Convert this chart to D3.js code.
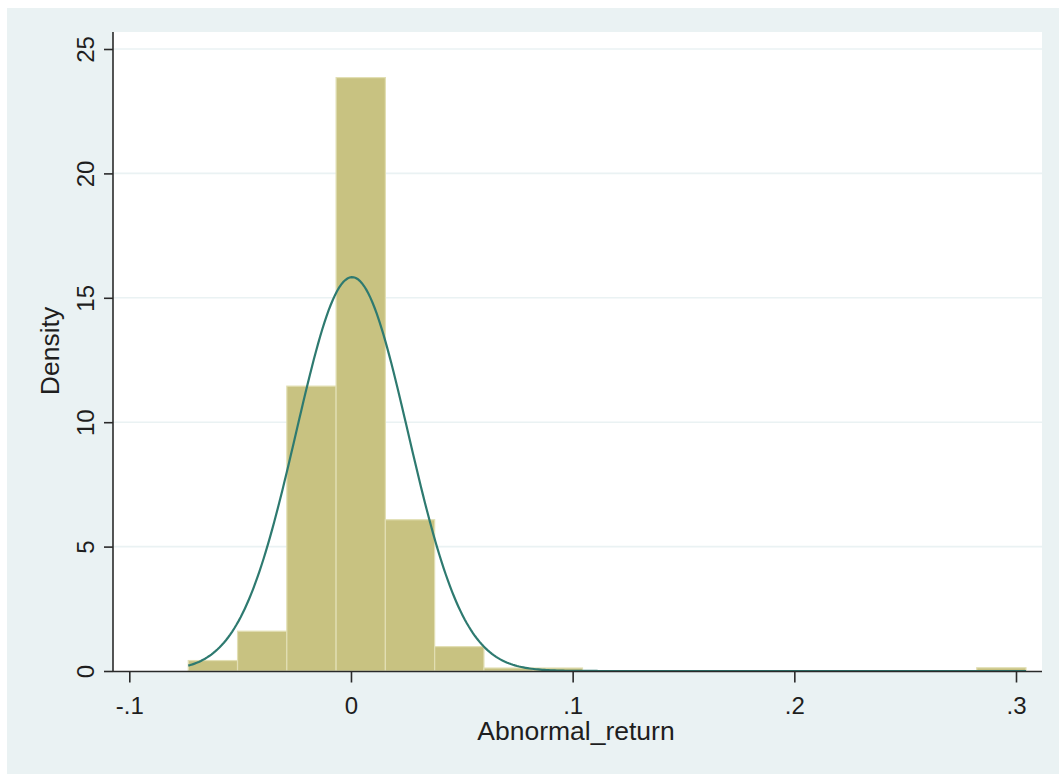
<!DOCTYPE html>
<html>
<head>
<meta charset="utf-8">
<script src="https://cdn.jsdelivr.net/npm/d3@7"></script>
<style>
  html, body { margin: 0; padding: 0; background: #ffffff; }
  svg { display: block; }
  text { font-family: "Liberation Sans", Arial, sans-serif; fill: #1e1e1e; }
</style>
</head>
<body>
<script>
// ---- data ----
const binStart = -0.0734;          // left edge of first bin
const binWidth = 0.02223;          // width of each bin
const densities = [0.42, 1.60, 11.45, 23.85, 6.08, 0.98, 0.12, 0.12, 0, 0, 0, 0, 0, 0, 0, 0, 0.13];
const normalMean = 0.0005;
const normalSD = 0.0252;
const xTicks = [-0.1, 0, 0.1, 0.2, 0.3];
const xTickLabels = ["-.1", "0", ".1", ".2", ".3"];
const yTicks = [0, 5, 10, 15, 20, 25];
const yTickLabels = ["0", "5", "10", "15", "20", "25"];
const xTitle = "Abnormal_return";
const yTitle = "Density";

// ---- layout ----
const W = 1059, H = 774;
const plot = { left: 113, right: 1042, top: 32, bottom: 671.5 };

const svg = d3.select("body").append("svg").attr("width", W).attr("height", H);

// outer background
svg.append("rect").attr("x", 7).attr("y", 8).attr("width", W - 7).attr("height", H - 8).attr("fill", "#eaf2f3");
// plot region
svg.append("rect").attr("x", plot.left).attr("y", plot.top)
  .attr("width", plot.right - plot.left).attr("height", plot.bottom - plot.top).attr("fill", "#ffffff");

const x = d3.scaleLinear().domain([-0.1, 0.3]).range([129.3, 1016]);
const y = d3.scaleLinear().domain([0, 25]).range([671, 49]);

// gridlines
svg.append("g").selectAll("line").data(yTicks.filter(d => d > 0)).join("line")
  .attr("x1", plot.left).attr("x2", plot.right)
  .attr("y1", d => y(d)).attr("y2", d => y(d))
  .attr("stroke", "#eaf2f3").attr("stroke-width", 1.6);

// bars
const bins = densities.map((d, i) => ({ x0: binStart + i * binWidth, x1: binStart + (i + 1) * binWidth, d }));
svg.append("g").selectAll("rect").data(bins.filter(b => b.d > 0)).join("rect")
  .attr("x", b => x(b.x0))
  .attr("width", b => x(b.x1) - x(b.x0))
  .attr("y", b => y(b.d))
  .attr("height", b => y(0) - y(b.d))
  .attr("fill", "#c8c281")
  .attr("stroke", "#e2dfb4")
  .attr("stroke-width", 1.2);

// normal density curve
const xmin = binStart, xmax = binStart + densities.length * binWidth;
const pts = d3.range(0, 401).map(i => xmin + (xmax - xmin) * i / 400);
const pdf = v => Math.exp(-0.5 * Math.pow((v - normalMean) / normalSD, 2)) / (normalSD * Math.sqrt(2 * Math.PI));
svg.append("path")
  .datum(pts)
  .attr("d", d3.line().x(v => x(v)).y(v => y(pdf(v))).curve(d3.curveLinear))
  .attr("fill", "none").attr("stroke", "#2e7a70").attr("stroke-width", 2.2);

// y axis
const yAxis = d3.axisLeft(y).tickValues(yTicks).tickFormat((d, i) => yTickLabels[i]).tickSize(9).tickPadding(10);
const gy = svg.append("g").attr("transform", `translate(${plot.left},0)`).call(yAxis);
gy.select(".domain").remove();
gy.append("line").attr("x1", 0).attr("x2", 0).attr("y1", plot.top).attr("y2", plot.bottom)
  .attr("stroke", "#2a2a2a").attr("stroke-width", 1.6);
gy.selectAll(".tick line").attr("stroke", "#2a2a2a").attr("stroke-width", 1.6);
gy.selectAll(".tick text")
  .attr("x", null).attr("dy", null)
  .attr("transform", "translate(-19,0) rotate(-90)")
  .attr("text-anchor", "middle")
  .attr("font-size", 24)
  .attr("fill", "#1e1e1e");

// x axis
const xAxis = d3.axisBottom(x).tickValues(xTicks).tickFormat((d, i) => xTickLabels[i]).tickSize(11).tickPadding(8);
const gx = svg.append("g").attr("transform", `translate(0,${plot.bottom})`).call(xAxis);
gx.select(".domain").remove();
gx.append("line").attr("x1", plot.left).attr("x2", plot.right).attr("y1", 0).attr("y2", 0)
  .attr("stroke", "#2a2a2a").attr("stroke-width", 1.6);
gx.selectAll(".tick line").attr("stroke", "#2a2a2a").attr("stroke-width", 1.6);
gx.selectAll(".tick text")
  .attr("y", null).attr("dy", null)
  .attr("transform", "translate(0,42)")
  .attr("font-size", 24)
  .attr("fill", "#1e1e1e");

// axis titles
svg.append("text").attr("x", 576).attr("y", 740).attr("text-anchor", "middle")
  .attr("font-size", 26.5).text(xTitle);
svg.append("text").attr("transform", "translate(59,351) rotate(-90)").attr("text-anchor", "middle")
  .attr("font-size", 26.5).text(yTitle);
</script>
</body>
</html>
